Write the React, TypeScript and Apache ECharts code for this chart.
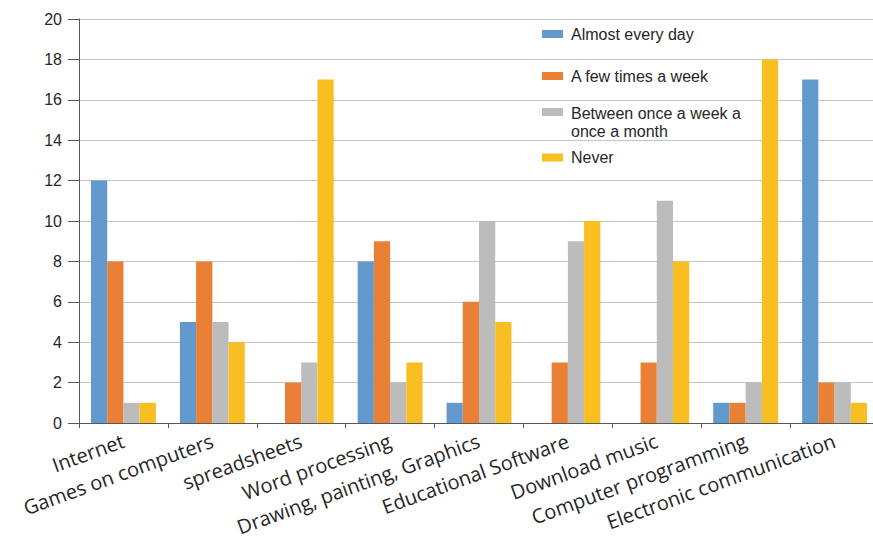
import React, { useEffect, useRef } from "react";
import * as echarts from "echarts";

const categories = [
  "Internet",
  "Games on computers",
  "spreadsheets",
  "Word processing",
  "Drawing, painting, Graphics",
  "Educational Software",
  "Download music",
  "Computer programming",
  "Electronic communication",
];

const seriesNames = [
  "Almost every day",
  "A few times a week",
  "Between once a week a once a month",
  "Never",
];

const almostEveryDay = [12, 5, 0, 8, 1, 0, 0, 1, 17];
const fewTimesWeek = [8, 8, 2, 9, 6, 3, 3, 1, 2];
const weekToMonth = [1, 5, 3, 2, 10, 9, 11, 2, 2];
const never = [1, 4, 17, 3, 5, 10, 8, 18, 1];

const colors = ["#6399CC", "#EA7F36", "#BBBCBB", "#F8BE22"];

export default function App() {
  const ref = useRef<HTMLDivElement>(null);

  useEffect(() => {
    if (!ref.current) return;
    const chart = echarts.init(ref.current, undefined, { renderer: "svg" });
    const values = [almostEveryDay, fewTimesWeek, weekToMonth, never];
    const legendCenters = [34, 76, 112, 157.5];
    const baseText = {
      fontFamily: "Liberation Sans, Arial, sans-serif",
      fontSize: 16,
      color: "#262626",
    };
    chart.setOption({
      animation: false,
      backgroundColor: "#ffffff",
      color: colors,
      grid: {
        left: 79,
        top: 19,
        width: 800,
        height: 404,
        containLabel: false,
        outerBoundsMode: "none",
      },
      legend: seriesNames.map((name, i) => ({
        data: [name],
        left: 542,
        top: i === 2 ? legendCenters[i] - 28.5 : legendCenters[i] - 9.5,
        padding: 0,
        itemWidth: 21,
        itemHeight: 8,
        itemGap: 8,
        icon: "rect",
        selectedMode: false,
        formatter: (n: string) =>
          n === "Between once a week a once a month"
            ? "{a|Between once a week a}\n{b|once a month}"
            : "{t|" + n + "}",
        textStyle: {
          ...baseText,
          lineHeight: 19,
          rich: {
            t: { ...baseText, lineHeight: 19, padding: [0, 0, 0, 3] },
            a: {
              ...baseText,
              lineHeight: 38,
              verticalAlign: "bottom",
              padding: [0, 0, 0, 3],
            },
            b: { ...baseText, lineHeight: 19, padding: [0, 0, 0, 3] },
          },
        },
      })),
      xAxis: {
        type: "category",
        data: categories,
        boundaryGap: true,
        axisLine: { show: true, lineStyle: { color: "#595959", width: 1 } },
        axisTick: {
          show: true,
          length: 5,
          alignWithLabel: false,
          lineStyle: { color: "#595959" },
        },
        axisLabel: {
          interval: 0,
          rotate: 20,
          margin: 17,
          fontFamily: "Open Sans, sans-serif",
          fontSize: 20,
          color: "#262626",
        },
        splitLine: { show: false },
      },
      yAxis: {
        type: "value",
        min: 0,
        max: 20,
        interval: 2,
        axisLine: { show: true, lineStyle: { color: "#595959", width: 1 } },
        axisTick: { show: true, length: 11, lineStyle: { color: "#595959" } },
        axisLabel: {
          margin: 17,
          fontFamily: "Liberation Sans, Arial, sans-serif",
          fontSize: 16,
          color: "#262626",
        },
        splitLine: { show: true, lineStyle: { color: "#C6C6C6", width: 1 } },
      },
      series: seriesNames.map((name, i) => ({
        name,
        type: "bar",
        data: values[i],
        barGap: "0%",
        barCategoryGap: "27%",
        itemStyle: { color: colors[i] },
      })),
    });
    return () => chart.dispose();
  }, []);

  return (
    <div
      ref={ref}
      style={{ position: "absolute", left: 0, top: 0, width: 873, height: 541 }}
    />
  );
}
